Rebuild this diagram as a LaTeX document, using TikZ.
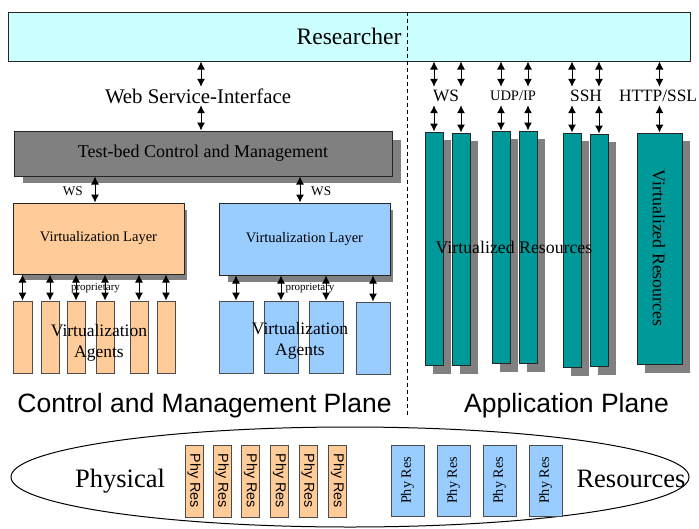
\documentclass[tikz,border=0pt]{standalone}
\usepackage{fontspec}
\setmainfont{Liberation Serif}
\newfontfamily\arialfont{Liberation Sans}
\usetikzlibrary{arrows.meta,shapes.geometric}
\definecolor{sky}{HTML}{CCFFFF}
\definecolor{peach}{HTML}{FFCC99}
\definecolor{lightblue}{HTML}{99CCFF}
\definecolor{tealres}{HTML}{009999}
\definecolor{midgray}{HTML}{808080}
\newcommand\fsz[1]{\fontsize{#1}{#1}\selectfont}
\begin{document}
\begin{tikzpicture}[x=1pt,y=-1pt,
  box/.style={draw=black!85, line width=1pt, rectangle, inner sep=0pt},
  agent/.style={draw=black!70, line width=0.9pt, rectangle, inner sep=0pt, minimum height=72},
  dbl/.style={{Latex[length=8pt,width=8pt]}-{Latex[length=8pt,width=8pt]}, line width=1pt},
  shadowfill/.style={fill=midgray},
  proto/.style={font=\fsz{17.3}, inner sep=0pt, minimum height=18},
  divider/.style={line width=0.9pt, dash pattern=on 4pt off 3pt},
  phyo/.style={draw=black!70, line width=0.9pt, fill=peach, inner sep=0pt,
    minimum width=72, minimum height=18, rotate=-90, font=\arialfont\fsz{14.3}},
  phyb/.style={draw=black!70, line width=0.9pt, fill=lightblue, inner sep=0pt,
    minimum width=71, minimum height=33, rotate=90, font=\fsz{14.2}}]
\useasboundingbox (0,0) rectangle (699,528);

% top: researcher
\node[box, fill=sky, minimum width=682, minimum height=49, font=\fsz{23.6}] (r) at (349,36.5) {Researcher};
\coordinate (dl) at (407,416);
\draw[divider] (r.north -| dl) -- (dl);

% control and management side
\fill[shadowfill] (23,140) rectangle (401,183);
\node[box, fill=midgray, minimum width=378, minimum height=45, font=\fsz{18}] (tb) at (203,153.5) {Test-bed Control and Management};

\node[font=\fsz{20.8}, inner sep=0pt, minimum height=18] (wsi) at (198,96) {Web Service-Interface};
\coordinate (cw) at (201,0);
\draw[dbl] (r.south -| cw) -- (wsi.north -| cw);
\draw[dbl] (wsi.south -| cw) -- (tb.north -| cw);

\fill[shadowfill] (22,210) rectangle (187,280);
\fill[shadowfill] (228,210) rectangle (393,282);
\node[box, fill=peach, minimum width=171, minimum height=71, font=\fsz{14.5}] (ol) at (98.5,238.5) {Virtualization Layer};
\node[box, fill=lightblue, minimum width=171, minimum height=72, font=\fsz{14.5}] (bl) at (304.5,239) {Virtualization Layer};

\coordinate (cl) at (95,0);
\coordinate (cr) at (300,0);
\draw[dbl] (tb.south -| cl) -- (ol.north -| cl);
\draw[dbl] (tb.south -| cr) -- (bl.north -| cr);
\node[font=\fsz{13.3}, inner sep=0pt, anchor=east] (wsl) at (83,191) {WS};
\node[font=\fsz{13.3}, inner sep=0pt, anchor=west] (wsr) at (311,191) {WS};

% virtualization agents
\foreach \i/\x/\w in {1/22.5/19, 2/50/18, 3/76/18, 4/105/18, 5/139/18, 6/166/18} {
  \node[agent, fill=peach, minimum width=\w] (oa\i) at (\x,337) {};
  \draw[dbl] (ol.south -| oa\i) -- (oa\i.north);
}
\foreach \i/\x/\y in {1/236/337, 2/281/337, 3/326/337, 4/373/338} {
  \node[agent, fill=lightblue, minimum width=34] (ba\i) at (\x,\y) {};
  \draw[dbl] (bl.south -| ba\i) -- (ba\i.north);
}
\node[font=\fsz{11}, inner sep=0pt] (propo) at (95.5,288) {proprietary};
\node[font=\fsz{11}, inner sep=0pt] (propb) at (310,288) {proprietary};
\node[font=\fontsize{17.5}{21}\selectfont, align=center, inner sep=0pt] (oat) at (99,343) {Virtualization\\Agents};
\node[font=\fontsize{17.5}{21}\selectfont, align=center, inner sep=0pt] (bat) at (300,340.5) {Virtualization\\Agents};

% application side
\foreach \n/\x/\y/\w/\h in {v1/434/248.5/18/233, v2/461/249/18/232, v3/501/247/18/232,
    v4/528/247/18/232, v5/572/250/18/234, v6/599/250/18/232, v7/659.5/248.5/45/231} {
  \fill[shadowfill] ({\x-\w/2+8},{\y-\h/2+8}) rectangle ({\x+\w/2+8},{\y+\h/2+9});
  \node[box, fill=tealres, minimum width=\w, minimum height=\h] (\n) at (\x,\y) {};
}
\node[proto] (lws) at (446,96) {WS};
\node[proto, font=\fsz{14.5}] (ludp) at (513,96) {UDP/IP};
\node[proto] (lssh) at (586,96) {SSH};
\node[proto] (lhttp) at (658,96) {HTTP/SSL};
\foreach \b/\l in {v1/lws, v2/lws, v3/ludp, v4/ludp, v5/lssh, v6/lssh, v7/lhttp} {
  \draw[dbl] (r.south -| \b) -- (\l.north -| \b);
  \draw[dbl] (\l.south -| \b) -- (\b.north);
}
\node[font=\fsz{17.8}, inner sep=0pt] (vrh) at (514,247) {Virtualized Resources};
\node[font=\fsz{17.8}, inner sep=0pt, rotate=-90] (vrv) at (659,248) {Virtualized Resources};

% plane captions
\node[font=\arialfont\fsz{26.5}, inner sep=0pt, anchor=base] (cmp) at (204.5,412) {Control and Management Plane};
\node[font=\arialfont\fsz{26.5}, inner sep=0pt, anchor=base] (ap) at (566.5,412) {Application Plane};

% physical resources
\node[draw=black, line width=1pt, ellipse, minimum width=678, minimum height=100, inner sep=0pt] (pr) at (350,477) {};
\node[font=\fsz{26.5}, inner sep=0pt, anchor=base] (phys) at (120,487) {Physical};
\node[font=\fsz{26.5}, inner sep=0pt, anchor=base] (res) at (631,487) {Resources};
\foreach \i/\x in {1/194, 2/222, 3/250.5, 4/279.5, 5/308, 6/337.5}
  \node[phyo] (pro\i) at (\x,481) {Phy Res};
\foreach \i/\x in {1/407.5, 2/453.5, 3/499.5, 4/545.5}
  \node[phyb] (prb\i) at (\x,480.5) {Phy Res};
\end{tikzpicture}
\end{document}
